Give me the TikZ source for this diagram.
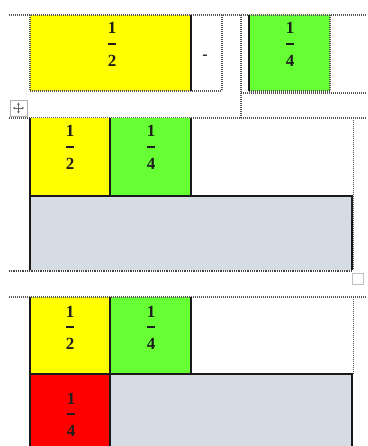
\documentclass[tikz,border=0pt]{standalone}
\usepackage{fontspec}
\setmainfont{Liberation Serif}
\usetikzlibrary{arrows.meta}
\definecolor{cyel}{HTML}{FFFF00}
\definecolor{cgrn}{HTML}{66FF33}
\definecolor{cred}{HTML}{FF0000}
\definecolor{cgray}{HTML}{D6DCE4}
\definecolor{ctxt}{HTML}{1E1E1E}
\definecolor{cdot}{HTML}{555555}
\newcommand\myfrac[5]{%
  \node[numtxt] (#1n) at (#2,#3-10) {#4};
  \draw[fbar] (#2-4.3,#3) -- (#2+4.3,#3);
  \node[numtxt] (#1d) at (#2,#3+22.5) {#5};}
\begin{document}
\begin{tikzpicture}[x=1pt,y=-1pt,
  numtxt/.style={font=\fontsize{17}{17}\selectfont\bfseries, text=ctxt, inner sep=0pt, anchor=base},
  fbar/.style={draw=ctxt, line width=1.7pt},
  cellline/.style={draw=black!90, line width=1.2pt},
  dotline/.style={draw=cdot, line width=1.2pt, dash pattern=on 1pt off 1pt},
  thickdot/.style={draw=black!75, line width=2pt, dash pattern=on 1pt off 0.8pt}]
\useasboundingbox (0,0) rectangle (367,446);
\fill[white] (0,0) rectangle (367,446);

% ---------- top row ----------
\fill[cyel] (30,15) rectangle (191,91);
\fill[cgrn] (249,15) rectangle (330,91);
\draw[dotline] (9,15) -- (367,15);
\draw[dotline] (30,91) -- (222,91);
\draw[dotline] (30,15) -- (30,91);
\draw[dotline] (222,15) -- (222,91);
\draw[dotline] (249,91) -- (330,91);
\draw[dotline] (330,15) -- (330,91);
\draw[dotline] (241,15) -- (241,118);
\draw[dotline] (241,93) -- (367,93);
\draw[cellline] (191,15) -- (191,91);
\draw[cellline] (249,15) -- (249,91);
\myfrac{ta}{112}{44}{1}{2}
\myfrac{tb}{290}{44}{1}{4}
\node[font=\fontsize{16}{16}\selectfont\bfseries, text=ctxt, inner sep=0pt] (minus) at (205,57) {-};

% move icon
\draw[draw=gray!60, line width=0.7pt, fill=white] (10,100) rectangle (27,116);
\coordinate (mc) at (18.5,108);
\foreach \dx/\dy in {5.5/0,-5.5/0,0/5.5,0/-5.5}
  \draw[gray!80!black, line width=0.6pt, -{Stealth[length=2.2pt,width=2.8pt]}] (mc) -- ++(\dx,\dy);

\draw[dotline] (9,118) -- (367,118);

% ---------- middle ----------
\fill[cyel] (30,118) rectangle (110,196);
\fill[cgrn] (110,118) rectangle (191,196);
\fill[cgray] (30,196) rectangle (352,270);
\draw[dotline] (353.5,118) -- (353.5,270);
\draw[cellline] (30,118) -- (30,270);
\draw[cellline] (110,118) -- (110,196);
\draw[cellline] (191,118) -- (191,196);
\draw[cellline] (30,196) -- (352,196) -- (352,270);
\draw[draw=black!85, line width=2.4pt, dash pattern=on 2pt off 0.7pt] (352,197) -- (352,219);
\myfrac{ma}{70}{147}{1}{2}
\myfrac{mb}{151}{147}{1}{4}
\draw[thickdot] (9,270.5) -- (352,270.5);
\draw[draw=gray!50, line width=0.8pt, fill=white] (352.5,273) rectangle (363,284);

% ---------- bottom ----------
\fill[cyel] (30,297) rectangle (110,374);
\fill[cgrn] (110,297) rectangle (191,374);
\fill[cred] (30,374) rectangle (110,447);
\fill[cgray] (110,374) rectangle (352,447);
\draw[dotline] (9,297) -- (367,297);
\draw[dotline] (353.5,297) -- (353.5,374);
\draw[cellline] (30,297) -- (30,447);
\draw[cellline] (110,297) -- (110,447);
\draw[cellline] (191,297) -- (191,374);
\draw[cellline] (30,374) -- (352,374) -- (352,447);
\myfrac{ba}{70}{327}{1}{2}
\myfrac{bb}{151}{327}{1}{4}
\myfrac{bc}{71}{414}{1}{4}
\end{tikzpicture}
\end{document}
